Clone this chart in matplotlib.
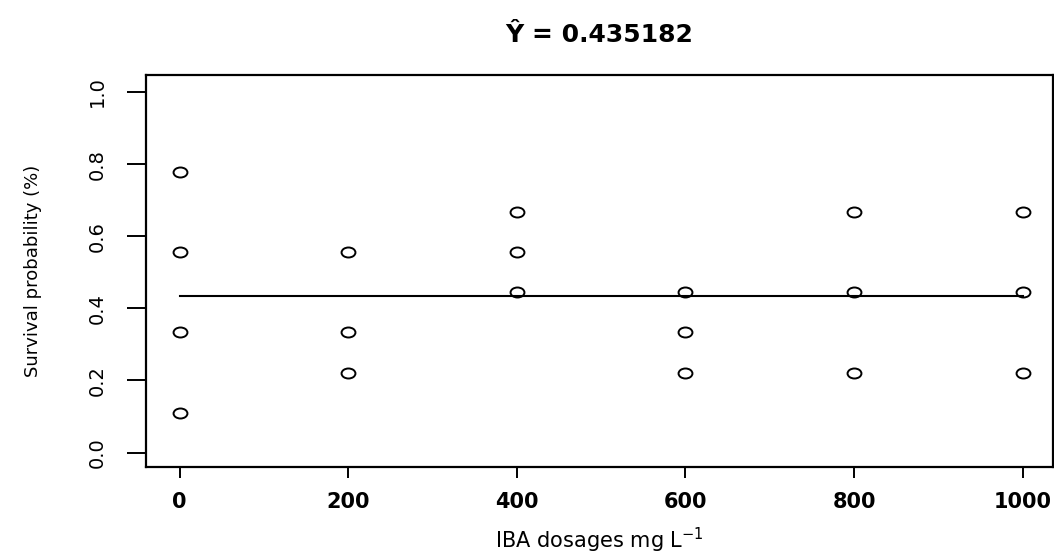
import matplotlib
matplotlib.use("Agg")
import matplotlib.pyplot as plt
from matplotlib.path import Path

# IBA dose (mg/L) and survival probability per replicate
dose = [0, 0, 0, 0,
        200, 200, 200,
        400, 400, 400,
        600, 600, 600,
        800, 800, 800,
        1000, 1000, 1000]
survival = [0.778, 0.556, 0.333, 0.111,
            0.556, 0.333, 0.222,
            0.667, 0.556, 0.444,
            0.444, 0.333, 0.222,
            0.667, 0.444, 0.222,
            0.667, 0.444, 0.222]
y_hat = 0.435182
x_ticks = [0, 200, 400, 600, 800, 1000]
y_ticks = [0.0, 0.2, 0.4, 0.6, 0.8, 1.0]

plt.rcParams['font.family'] = ['DejaVu Sans']

# the source image is stretched sideways, so the circles are a bit flat
circ = Path.unit_circle()
flat = Path(circ.vertices * [1.0, 0.72], circ.codes)

fig = plt.figure(figsize=(10.54, 5.6), dpi=100)
ax = fig.add_axes([146/1054, 1 - 467/560, (1053 - 146)/1054, (467 - 75)/560])

ax.plot(dose, survival, linestyle='none', marker=flat, mfc='none', mec='black', mew=1.4, ms=10)
ax.plot([min(dose), max(dose)], [y_hat, y_hat], color='black', lw=1.5)

ax.set_xlim(-40, 1036)
ax.set_ylim(-0.04, 1.047)

ax.set_xticks(x_ticks)
ax.set_xticklabels([str(t) for t in x_ticks], fontsize=15, fontweight='bold')
ax.set_yticks(y_ticks)
ax.set_yticklabels(['%.1f' % t for t in y_ticks], fontsize=14, rotation=90, va='center')

ax.tick_params(axis='x', length=8, width=1.4, pad=10, direction='out')
ax.tick_params(axis='y', length=14, width=1.4, pad=14, direction='out')
for s in ax.spines.values():
    s.set_linewidth(1.6)

ax.set_title('Ŷ = 0.435182', fontsize=18, fontweight='bold', pad=24)
ax.set_xlabel('IBA dosages mg L$^{-1}$', fontsize=15, labelpad=10)
ax.set_ylabel('Survival probability (%)', fontsize=13, labelpad=33)

plt.savefig('out.png', dpi=100)
